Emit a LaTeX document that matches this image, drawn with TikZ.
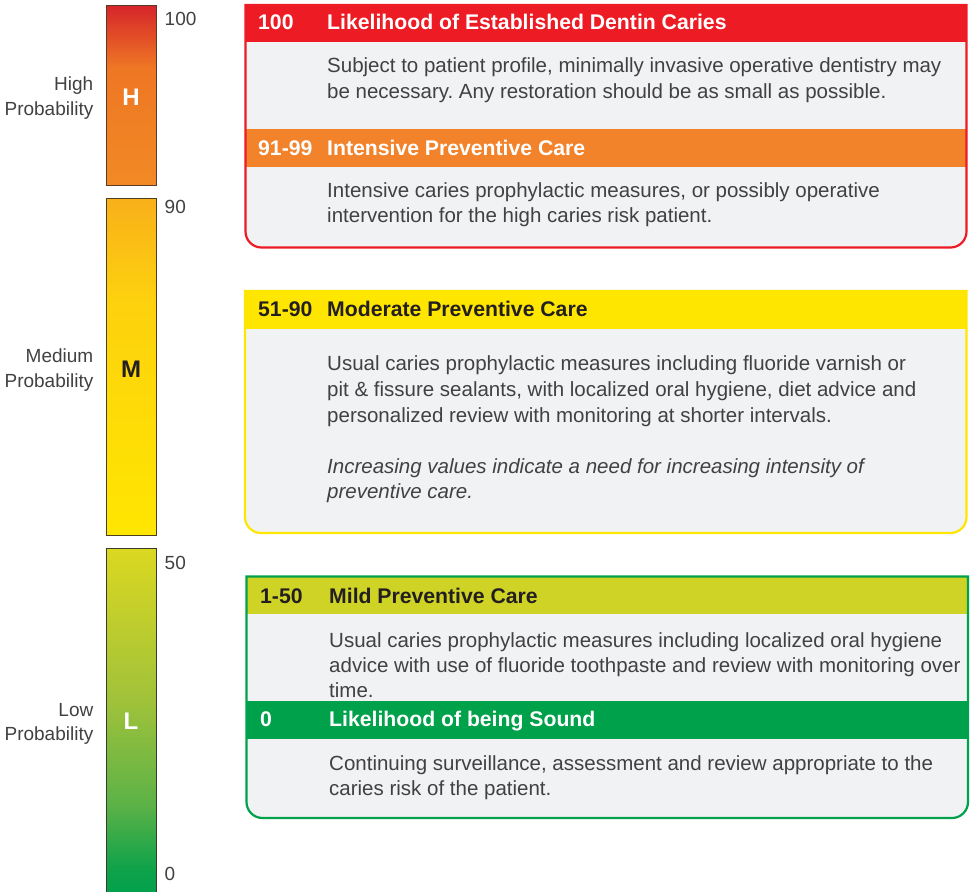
\documentclass[tikz,border=0pt]{standalone}
\usepackage{fontspec}
\setmainfont{Liberation Sans}
\frenchspacing

% palette
\definecolor{hred}{HTML}{ED1C24}
\definecolor{horange}{HTML}{F2832A}
\definecolor{hyellow}{HTML}{FFE600}
\definecolor{hlime}{HTML}{CFD325}
\definecolor{hgreen}{HTML}{00A14B}
\definecolor{panel}{HTML}{F1F2F4}
\definecolor{bodygray}{HTML}{414042}
\definecolor{darktext}{HTML}{231F20}
\definecolor{hedge}{HTML}{5B3A29}
\definecolor{medge}{HTML}{4A3F1E}
\definecolor{ledge}{HTML}{3A3A2E}
% bar gradient stops
\definecolor{htop}{HTML}{D6262A}
\definecolor{hmid}{HTML}{EE7624}
\definecolor{hbot}{HTML}{F28A24}
\definecolor{mtop}{HTML}{F9B01A}
\definecolor{mmid}{HTML}{FDD10E}
\definecolor{mbot}{HTML}{FFE600}
\definecolor{ltop}{HTML}{DBD820}
\definecolor{lmida}{HTML}{A0C23A}
\definecolor{lmidb}{HTML}{5CB247}
\definecolor{lmidc}{HTML}{10A34A}
\definecolor{lbot}{HTML}{00A14B}

% vertical shadings (25bp..75bp spans the filled shape)
\pgfdeclareverticalshading{hbarshade}{100bp}{color(0bp)=(hbot); color(25bp)=(hbot); color(58bp)=(hmid); color(75bp)=(htop); color(100bp)=(htop)}
\pgfdeclareverticalshading{mbarshade}{100bp}{color(0bp)=(mbot); color(25bp)=(mbot); color(60bp)=(mmid); color(75bp)=(mtop); color(100bp)=(mtop)}
\pgfdeclareverticalshading{lbarshade}{100bp}{color(0bp)=(lbot); color(25bp)=(lbot); color(29bp)=(lmidc); color(38bp)=(lmidb); color(53bp)=(lmida); color(75bp)=(ltop); color(100bp)=(ltop)}

% outline of a card: square top, rounded bottom corners
\newcommand\cardpath[4]{(#1,-#2) -- (#3,-#2) -- (#3,-#4+16) arc[start angle=0,end angle=-90,radius=16] -- (#1+16,-#4) arc[start angle=270,end angle=180,radius=16] -- cycle}

\begin{document}
\begin{tikzpicture}[x=1pt,y=1pt,
  lbl/.style={inner sep=0,text=bodygray,font=\fontsize{19}{23}\selectfont},
  bartag/.style={inner sep=0,anchor=base,font=\fontsize{24}{28}\selectfont\bfseries},
  bodytext/.style={inner sep=0,anchor=base west,text=bodygray,font=\fontsize{20.5}{26}\selectfont},
  noteitalic/.style={bodytext,font=\fontsize{20.5}{26}\selectfont\itshape},
  headtext/.style={inner sep=0,anchor=base west,font=\fontsize{21.2}{26}\selectfont\bfseries},
  barline/.style={draw=#1,line width=1pt},
  cardline/.style={draw=#1,line width=2.2pt}]

\useasboundingbox (0,0) rectangle (973,-891);
\clip (0,0) rectangle (973,-891);

% ---- probability bars ----
\shade[shading=hbarshade] (106,-6) rectangle (156,-185);
\draw[barline=hedge] (106,-6) rectangle (156,-185);
\shade[shading=mbarshade] (106,-198) rectangle (156,-535);
\draw[barline=medge] (106,-198) rectangle (156,-535);
\shade[shading=lbarshade] (106,-548) rectangle (156,-895);
\draw[barline=ledge] (106,-548) rectangle (156,-895);

\node[bartag,text=white] (tagH) at (131,-105) {H};
\node[bartag,text=darktext] (tagM) at (131,-377.5) {M};
\node[bartag,text=white] (tagL) at (131,-729.5) {L};

\node[lbl,anchor=base west] (n100) at (164.5,-26) {100};
\node[lbl,anchor=base west] (n90) at (164.5,-213.3) {90};
\node[lbl,anchor=base west] (n50) at (164.5,-569.3) {50};
\node[lbl,anchor=base west] (n0) at (164.5,-880) {0};

\node[lbl,anchor=base east] (highA) at (93.5,-90) {High};
\node[lbl,anchor=base east] (highB) at (93.5,-115) {Probability};
\node[lbl,anchor=base east] (medA) at (93.5,-362) {Medium};
\node[lbl,anchor=base east] (medB) at (93.5,-387) {Probability};
\node[lbl,anchor=base east] (lowA) at (93.5,-716) {Low};
\node[lbl,anchor=base east] (lowB) at (93.5,-740.5) {Probability};

% ---- high card ----
\fill[panel] \cardpath{245.5}{5}{966.5}{247.5};
\begin{scope}
  \clip \cardpath{245.5}{5}{966.5}{247.5};
  \fill[hred] (240,-4) rectangle (972,-42.5);
  \fill[horange] (240,-128.5) rectangle (972,-166.5);
\end{scope}
\draw[cardline=hred] \cardpath{245.5}{5}{966.5}{247.5};

\node[headtext,text=white] (c1num) at (258,-30) {100};
\node[headtext,text=white] (c1title) at (327,-30) {Likelihood of Established Dentin Caries};
\node[bodytext] (c1a) at (327,-72.5) {Subject to patient profile, minimally invasive operative dentistry may};
\node[bodytext] (c1b) at (327,-98.5) {be necessary. Any restoration should be as small as possible.};
\node[headtext,text=white] (c2num) at (258,-155) {91-99};
\node[headtext,text=white] (c2title) at (327,-155) {Intensive Preventive Care};
\node[bodytext] (c2a) at (327,-197) {Intensive caries prophylactic measures, or possibly operative};
\node[bodytext] (c2b) at (327,-222) {intervention for the high caries risk patient.};

% ---- medium card ----
\fill[panel] \cardpath{245}{291}{966.5}{533};
\begin{scope}
  \clip \cardpath{245}{291}{966.5}{533};
  \fill[hyellow] (240,-290) rectangle (972,-329);
\end{scope}
\draw[cardline=hyellow] \cardpath{245}{291}{966.5}{533};

\node[headtext,text=darktext] (c3num) at (258,-316) {51-90};
\node[headtext,text=darktext] (c3title) at (327,-316) {Moderate Preventive Care};
\node[bodytext] (c3a) at (327,-370) {Usual caries prophylactic measures including fluoride varnish or};
\node[bodytext] (c3b) at (327,-396) {pit \& fissure sealants, with localized oral hygiene, diet advice and};
\node[bodytext] (c3c) at (327,-422) {personalized review with monitoring at shorter intervals.};
\node[noteitalic] (c3d) at (327,-473) {Increasing values indicate a need for increasing intensity of};
\node[noteitalic] (c3e) at (327,-498.5) {preventive care.};

% ---- low card ----
\fill[panel] \cardpath{246.5}{576.5}{968}{818};
\begin{scope}
  \clip \cardpath{246.5}{576.5}{968}{818};
  \fill[hlime] (240,-575) rectangle (972,-614.3);
  \fill[hgreen] (240,-701) rectangle (972,-739);
\end{scope}
\draw[cardline=hgreen] \cardpath{246.5}{576.5}{968}{818};

\node[headtext,text=darktext] (c4num) at (260,-603) {1-50};
\node[headtext,text=darktext] (c4title) at (329,-603) {Mild Preventive Care};
\node[bodytext] (c4a) at (329,-647.5) {Usual caries prophylactic measures including localized oral hygiene};
\node[bodytext] (c4b) at (329,-672.3) {advice with use of fluoride toothpaste and review with monitoring over};
\node[bodytext] (c4c) at (329,-697) {time.};
\node[headtext,text=white] (c5num) at (260,-726) {0};
\node[headtext,text=white] (c5title) at (329,-726) {Likelihood of being Sound};
\node[bodytext] (c5a) at (329,-770) {Continuing surveillance, assessment and review appropriate to the};
\node[bodytext] (c5b) at (329,-795) {caries risk of the patient.};

\end{tikzpicture}
\end{document}
